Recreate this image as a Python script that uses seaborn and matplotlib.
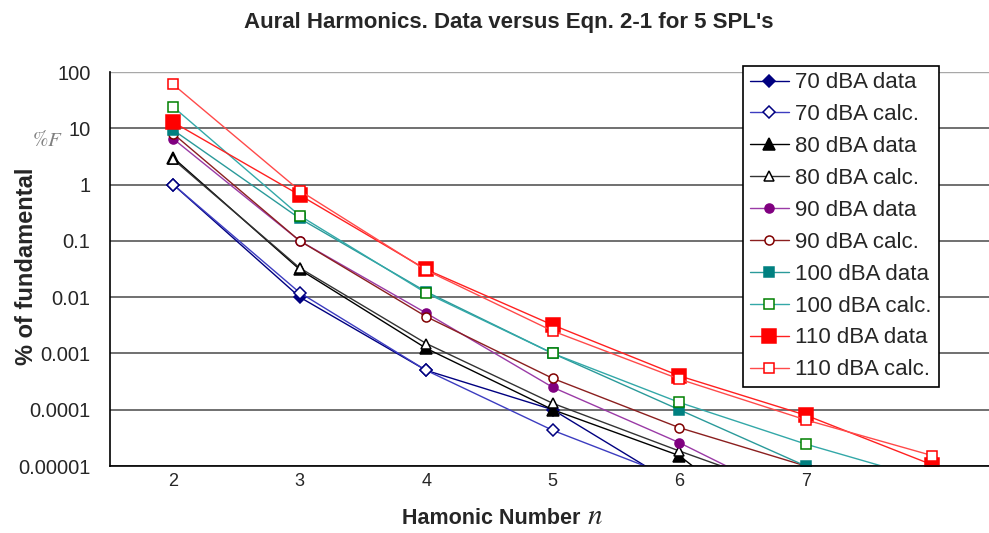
import numpy as np
import pandas as pd
import seaborn as sns
import matplotlib.pyplot as plt
from matplotlib.ticker import FixedLocator, NullFormatter

sns.set_style('white')
plt.rcParams['font.family'] = ['Liberation Sans', 'DejaVu Sans']
plt.rcParams['mathtext.fontset'] = 'stix'

## data ##

harmonics = [2, 3, 4, 5, 6, 7, 8]
tick_labels = ['2', '3', '4', '5', '6', '7']

db70_data = [1.0, 0.010, 0.0005, 0.0001, 0.0000043]
db70_calc = [1.0, 0.012, 0.0005, 0.000043, 0.0000058]
db80_data = [3.0, 0.031, 0.00123, 0.0001, 0.0000153, 0.00000027]
db80_calc = [2.8, 0.033, 0.0015, 0.00013, 0.0000185, 0.0000029]
db90_data = [6.5, 0.1, 0.0052, 0.00025, 0.000026, 0.000002]
db90_calc = [8.0, 0.1, 0.0045, 0.00036, 0.000048, 0.00001]
db100_data = [9.3, 0.25, 0.0125, 0.001, 0.0001, 0.00001, 0.00000085]
db100_calc = [24, 0.28, 0.0118, 0.001, 0.000135, 0.0000245, 0.0000055]
db110_data = [12.8, 0.65, 0.031, 0.0032, 0.0004, 0.00008, 0.0000105]
db110_calc = [60, 0.78, 0.030, 0.0025, 0.00035, 0.000066, 0.0000153]

y_ticks = [0.00001, 0.0001, 0.001, 0.01, 0.1, 1, 10, 100]
y_tick_labels = ['0.00001', '0.0001', '0.001', '0.01', '0.1', '1', '10', '100']

# label, values, line colour, marker, size, face, edge
series = [
    ('70 dBA data', db70_data, '#000080', 'D', 6.5, '#000080', '#000080'),
    ('70 dBA calc.', db70_calc, '#3c3cc0', 'D', 6, 'white', '#000080'),
    ('80 dBA data', db80_data, '#000000', '^', 8, '#000000', '#000000'),
    ('80 dBA calc.', db80_calc, '#333333', '^', 7, 'white', '#000000'),
    ('90 dBA data', db90_data, '#9a3aa6', 'o', 6.5, '#800080', '#800080'),
    ('90 dBA calc.', db90_calc, '#8b1f1f', 'o', 6.5, 'white', '#800000'),
    ('100 dBA data', db100_data, '#2a9a9a', 's', 7, '#008080', '#008080'),
    ('100 dBA calc.', db100_calc, '#33a8a8', 's', 7, 'white', '#008000'),
    ('110 dBA data', db110_data, '#ff2020', 's', 10.5, '#ff0000', '#ff0000'),
    ('110 dBA calc.', db110_calc, '#ff4a4a', 's', 7, 'white', '#ff0000'),
]

fig = plt.figure(figsize=(9.89, 5.33), dpi=100)
ax = fig.add_axes([0.1112, 0.1257, 0.8954, 0.7392])
ax.set_yscale('log')

for label, vals, col, mk, ms, face, edge in series:
    df = pd.DataFrame({'n': harmonics[:len(vals)], 'pct': vals})
    sns.lineplot(data=df, x='n', y='pct', ax=ax, color=col, lw=1.0,
                 marker=mk, markersize=ms, markerfacecolor=face,
                 markeredgecolor=edge, markeredgewidth=1.1, label=label)

ax.set_xlim(1.5, 8.5)
ax.set_ylim(0.00001, 100)

ax.set_xticks(harmonics[:6])
ax.set_xticklabels(tick_labels, fontsize=13)
ax.xaxis.set_minor_locator(FixedLocator(np.arange(2.5, 8, 1)))
ax.xaxis.set_minor_formatter(NullFormatter())
ax.tick_params(axis='x', which='major', length=0, pad=5)
ax.tick_params(axis='x', which='minor', length=6, width=1, direction='out', color='black')

ax.yaxis.set_major_locator(FixedLocator(y_ticks))
ax.set_yticklabels(y_tick_labels, fontsize=14.5)
ax.yaxis.set_minor_locator(FixedLocator([]))
ax.tick_params(axis='y', which='major', length=6, width=1, direction='out', color='black', pad=8)

ax.grid(axis='y', which='major', color='#707070', lw=1.4)
ax.grid(axis='x', visible=False)
ax.get_ygridlines()[-1].set_color('#a8a8a8')
ax.get_ygridlines()[-1].set_linewidth(1.0)
for s in ['top', 'right']:
    ax.spines[s].set_visible(False)
for s in ['left', 'bottom']:
    ax.spines[s].set_color('black')
    ax.spines[s].set_linewidth(1.2)

ax.set_xlabel('')
ax.set_ylabel('% of fundamental', fontsize=17, fontweight='bold')
ax.yaxis.set_label_coords(-0.081, 0.508)

leg = ax.legend(loc='upper left', bbox_to_anchor=(0.715, 1.016), borderaxespad=0,
                fontsize=16, frameon=True, fancybox=False, framealpha=1,
                edgecolor='black', labelspacing=0.49, handlelength=1.75,
                handletextpad=0.3, borderpad=0.3)
leg.get_frame().set_linewidth(1.2)

fig.text(0.514, 0.957, "Aural Harmonics. Data versus Eqn. 2-1 for 5 SPL's",
         ha='center', va='center', fontsize=16, fontweight='bold')
fig.text(0.0485, 0.737, r'$\%F$', ha='center', va='center', fontsize=15, color='#808080')
fig.text(0.587, 0.016, 'Hamonic Number', ha='right', va='baseline', fontsize=15.5, fontweight='bold')
fig.text(0.594, 0.016, r'$n$', ha='left', va='baseline', fontsize=21)

plt.savefig('out.png', dpi=100)
